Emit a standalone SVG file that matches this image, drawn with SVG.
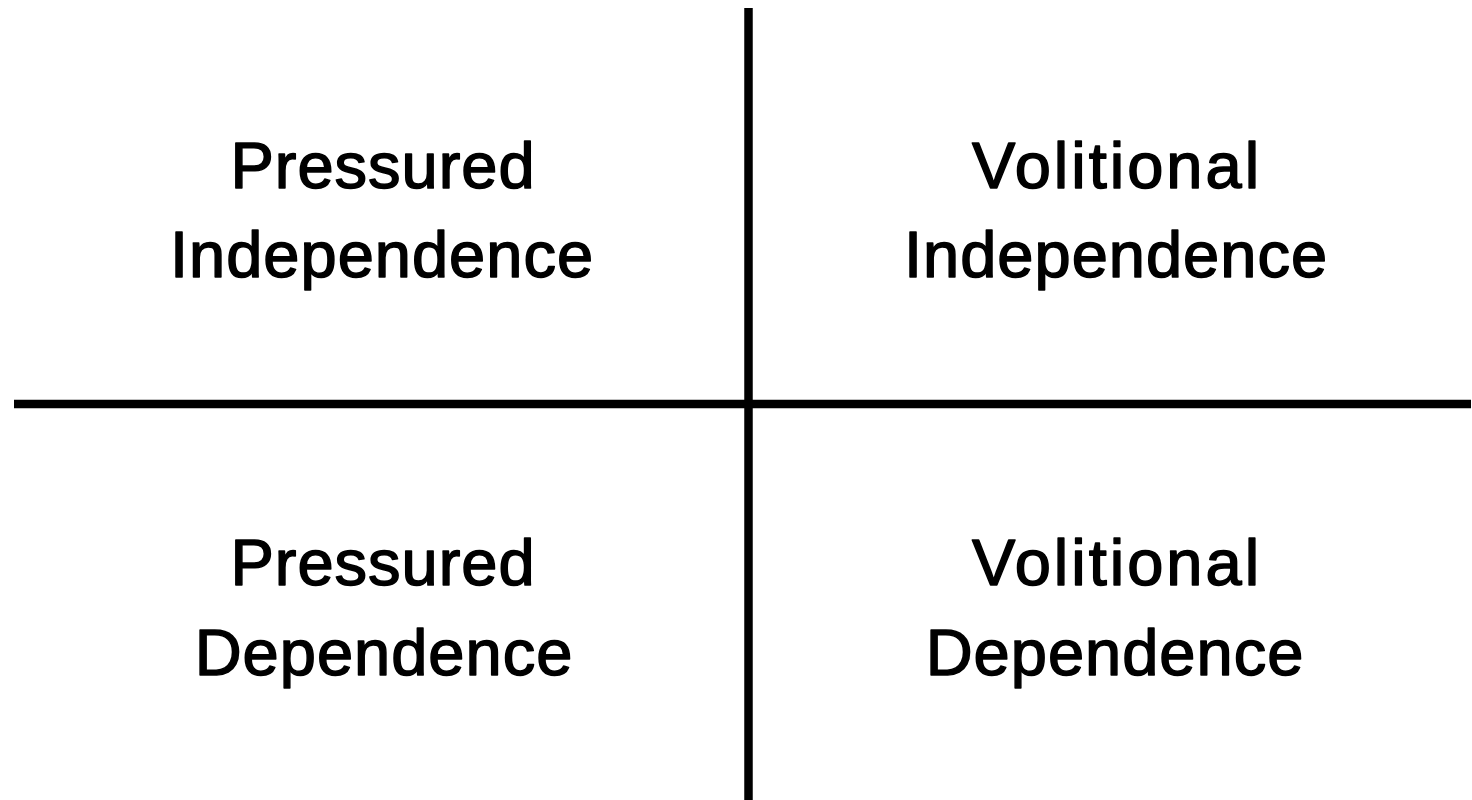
<svg xmlns="http://www.w3.org/2000/svg" width="1472" height="800" viewBox="0 0 1472 800">
  <style>
    .axis { stroke: #000; stroke-width: 8.5; fill: none; }
    .label { font-family: "Liberation Sans", Arial, sans-serif; font-size: 65px; fill: #000; stroke: #000; stroke-width: 1.5; stroke-linejoin: round; text-anchor: middle; letter-spacing: 1px; }
    .wide { letter-spacing: 3px; }
  </style>
  <rect width="1472" height="800" fill="#fff"/>
  <g id="axes">
    <line class="axis" x1="748.5" y1="8" x2="748.5" y2="800"/>
    <line class="axis" x1="14" y1="404" x2="1471" y2="404"/>
  </g>
  <g id="pressured-independence">
    <text class="label" x="383" y="188">Pressured</text>
    <text class="label" x="382" y="277">Independence</text>
  </g>
  <g id="volitional-independence">
    <text class="label wide" x="1117" y="188">Volitional</text>
    <text class="label" x="1116" y="277">Independence</text>
  </g>
  <g id="pressured-dependence">
    <text class="label" x="383" y="585">Pressured</text>
    <text class="label" x="384" y="675">Dependence</text>
  </g>
  <g id="volitional-dependence">
    <text class="label wide" x="1117" y="585">Volitional</text>
    <text class="label" x="1115" y="675">Dependence</text>
  </g>
</svg>
